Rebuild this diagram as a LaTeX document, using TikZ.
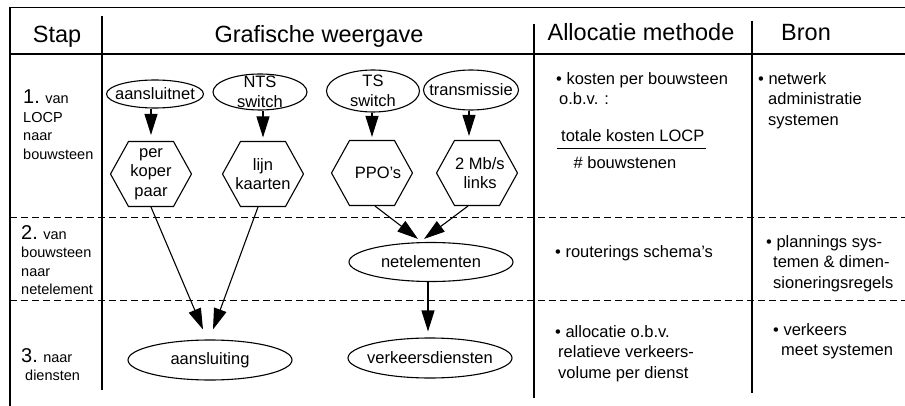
\documentclass[tikz,border=0pt]{standalone}
\usepackage{fontspec}
\setmainfont{Liberation Sans}
\usetikzlibrary{shapes.geometric}
\usetikzlibrary{shapes.symbols}
\usetikzlibrary{arrows.meta}
\usetikzlibrary{calc}

\tikzset{
  rule/.style={line width=1.5pt},
  sepline/.style={line width=1pt, dash pattern=on 7pt off 4pt},
  bubble/.style={draw, ellipse, line width=1.1pt, inner sep=0pt},
  hexbox/.style={draw, signal, signal to=west and east, signal pointer angle=122,
    minimum width=81pt, minimum height=65pt, inner sep=0pt, line width=1.1pt},
  flow/.style={line width=1.1pt, -{Triangle[length=21pt,width=13pt]}},
  head/.style={font=\fontsize{23.5}{28}\selectfont, anchor=base, inner sep=0pt},
  steptext/.style={font=\fontsize{14.5}{18.5}\selectfont, align=left, anchor=north west, inner sep=0pt},
  note/.style={align=left, anchor=north west, inner sep=0pt},
  every label/.style={align=center, inner sep=0pt, font=\fontsize{16.5}{19.5}\selectfont},
}
\newcommand{\stepnr}[1]{{\fontsize{20}{20}\selectfont #1}}

\begin{document}
\begin{tikzpicture}[x=1pt, y=-1pt, font=\fontsize{16.5}{20.5}\selectfont]
    \useasboundingbox (0,0) rectangle (905,406);

    % table
    \draw[rule] (10,406) -- (10,7.5) -- (905,7.5);
    \draw[rule] (10,54) -- (905,54);
    \draw[rule] (102,16) -- (102,390);
    \draw[rule] (534,24) -- (534,398);
    \draw[rule] (752,21) -- (752,393);
    \draw[sepline] (10,218) -- (905,218);
    \draw[sepline] (10,300) -- (905,300);

    % headers
    \node[head] (hstap) at (57,43) {Stap};
    \node[head] (hgraf) at (319,43) {Grafische weergave};
    \node[head] (halloc) at (641,41) {Allocatie methode};
    \node[head] (hbron) at (806,41) {Bron};

    % steps
    \node[steptext] (step1) at (23,90) {\stepnr{1.} van\\LOCP\\naar\\bouwsteen};
    \node[steptext] (step2) at (21,225) {\stepnr{2.} van\\bouwsteen\\naar\\netelement};
    \node[steptext] (step3) at (21,348) {\stepnr{3.} naar\\\hspace*{4pt}diensten};

    % graphic
    \node[bubble, minimum width=97pt, minimum height=28pt, label=center:aansluitnet] (aansluitnet) at (155,94) {};
    \node[bubble, minimum width=94pt, minimum height=36pt, label={center:NTS\\switch}] (nts) at (260,92) {};
    \node[bubble, minimum width=93pt, minimum height=42pt, label={center:TS\\switch}] (ts) at (373,91) {};
    \node[bubble, minimum width=95pt, minimum height=40pt, label=center:transmissie] (transmissie) at (471,90) {};

    \node[hexbox, label={center:per\\koper\\paar}] (koper) at (151,174) {};
    \node[hexbox, label={center:lijn\\kaarten}] (kaarten) at (263,174) {};
    \node[hexbox, label={[xshift=6pt]center:PPO's}] (ppo) at (372,173) {};
    \node[hexbox, label={[xshift=3pt]center:2 Mb/s\\links}] (links) at (477,173) {};

    \node[bubble, minimum width=164pt, minimum height=39pt, label=center:netelementen] (netelementen) at (431,262) {};
    \node[bubble, minimum width=164pt, minimum height=40pt, label=center:aansluiting] (aansluiting) at (210,360) {};
    \node[bubble, minimum width=164pt, minimum height=40pt, label=center:verkeersdiensten] (verkeersdiensten) at (430,358) {};

    \draw[flow, shorten >=6pt] (aansluitnet.south -| koper.north) -- (koper.north);
    \draw[flow, shorten >=3.5pt] (nts.south -| kaarten.north) -- (kaarten.north);
    \draw[flow, shorten >=3pt] (ts.south -| ppo.north) -- (ppo.north);
    \draw[flow, shorten >=4pt] ([xshift=-2pt]transmissie.south) -- ([xshift=-2pt]transmissie.south |- links.north);

    \draw[flow] (koper.south) -- ($(aansluiting.north)+(-7,-10)$);
    \draw[flow] ($(kaarten.south)+(-5,0)$) -- ($(aansluiting.north)+(3,-10)$);
    \draw[flow] ($(ppo.south)+(3,0)$) -- ($(netelementen.north)+(-13,-3)$);
    \draw[flow] ($(links.south)+(-9,0)$) -- ($(netelementen.north)+(-7,-3)$);
    \draw[flow, shorten >=6pt] ([xshift=-3pt]netelementen.south) -- ([xshift=-3pt]netelementen.south |- verkeersdiensten.north);

    % allocation and source
    \node[note] (alloc1) at (556,72) {• kosten per bouwsteen\\\hspace*{3pt}o.b.v. :};
    \node[anchor=base west, inner sep=0pt] (totaal) at (561,142) {totale kosten LOCP};
    \draw[line width=1pt] (557,149) -- (706,149);
    \node[anchor=base, inner sep=0pt] (aantal) at (625,169) {\# bouwstenen};
    \node[note] (bron1) at (758,72) {• netwerk\\\hspace*{10pt}administratie\\\hspace*{10pt}systemen};

    \node[note] (alloc2) at (555,245) {• routerings schema's};
    \node[note] (bron2) at (766,235) {• plannings sys-\\\hspace*{7pt}temen \& dimen-\\\hspace*{7pt}sioneringsregels};

    \node[note] (alloc3) at (555,325) {• allocatie o.b.v.\\\hspace*{3pt}relatieve verkeers-\\\hspace*{3pt}volume per dienst};
    \node[note] (bron3) at (773,323) {• verkeers\\\hspace*{8pt}meet systemen};
\end{tikzpicture}
\end{document}
